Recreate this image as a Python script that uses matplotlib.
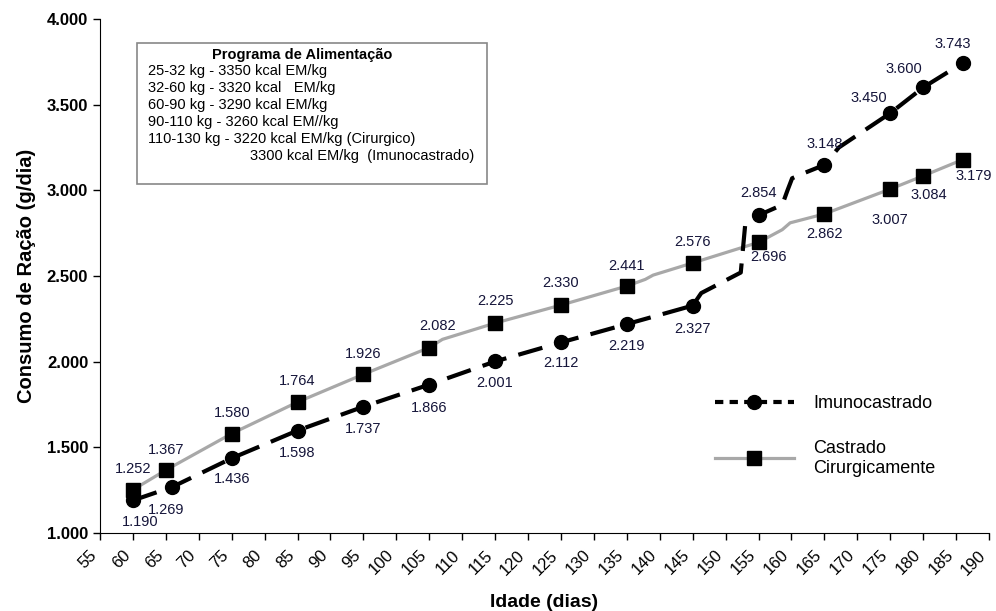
import matplotlib.pyplot as plt
from matplotlib.lines import Line2D

plt.rcParams['font.family'] = ['Liberation Sans', 'DejaVu Sans']

# valores medidos (marcadores)
idade_imuno = [60, 66, 75, 85, 95, 105, 115, 125, 135, 145, 155, 165, 175, 180, 186]
consumo_imuno = [1190, 1269, 1436, 1598, 1737, 1866, 2001, 2112, 2219, 2327, 2854, 3148, 3450, 3600, 3743]

idade_cast = [60, 65, 75, 85, 95, 105, 115, 125, 135, 145, 155, 165, 175, 180, 186]
consumo_cast = [1252, 1367, 1580, 1764, 1926, 2082, 2225, 2330, 2441, 2576, 2696, 2862, 3007, 3084, 3179]

# trajeto das linhas (com as quebras)
linha_imuno_x = [60, 66, 75, 85, 95, 105, 115, 125, 135, 145, 146.3, 152.3, 153.0, 155,
                 158.6, 159.4, 160.1, 161.9, 165, 167.2, 175, 180, 186]
linha_imuno_y = [1190, 1269, 1436, 1598, 1737, 1866, 2001, 2112, 2219, 2327, 2400, 2520, 2810, 2854,
                 2915, 3000, 3070, 3100, 3148, 3250, 3450, 3600, 3743]

linha_cast_x = [60, 65, 75, 85, 95, 105, 107, 115, 125, 135, 137.8, 139, 145, 155,
                158.6, 159.8, 165, 175, 180, 186]
linha_cast_y = [1252, 1367, 1580, 1764, 1926, 2082, 2130, 2225, 2330, 2441, 2480, 2505, 2576, 2696,
                2770, 2810, 2862, 3007, 3084, 3179]

# deslocamento dos rotulos (pixels)
off_imuno = [(7, -22), (-6, -23), (0, -21), (0, -22), (0, -22), (0, -23), (0, -22), (0, -21),
             (0, -22), (0, -23), (0, 22), (0, 21), (-21, 15), (-19, 18), (-10, 19)]
off_cast = [(0, 21), (0, 20), (0, 21), (0, 21), (0, 20), (8, 22), (0, 22), (0, 22),
            (0, 20), (0, 21), (10, -15), (0, -20), (0, -31), (6, -19), (11, -16)]

programa = ["25-32 kg - 3350 kcal EM/kg",
            "32-60 kg - 3320 kcal   EM/kg",
            "60-90 kg - 3290 kcal EM/kg",
            "90-110 kg - 3260 kcal EM//kg",
            "110-130 kg - 3220 kcal EM/kg (Cirurgico)"]
programa_extra = "3300 kcal EM/kg  (Imunocastrado)"


def fmt(v):
    return f"{v / 1000:.3f}"


fig = plt.figure(figsize=(9.96, 6.11), dpi=100)
ax = fig.add_axes([0.1004, 0.1277, 0.8926, 0.8413])

ax.plot(linha_cast_x, linha_cast_y, color='#a8a8a8', lw=2.3, zorder=2)
ax.plot(idade_cast, consumo_cast, ls='none', marker='s', ms=9.5, color='black', zorder=4)

ax.plot(linha_imuno_x, linha_imuno_y, color='black', lw=3, dashes=(6, 3), zorder=3)
ax.plot(idade_imuno, consumo_imuno, ls='none', marker='o', ms=10, color='black', zorder=4)

lab_color = '#15153a'
for x, y, (dx, dy) in zip(idade_imuno, consumo_imuno, off_imuno):
    ax.annotate(fmt(y), (x, y), xytext=(dx, dy), textcoords='offset pixels',
                ha='center', va='center', fontsize=10.5, color=lab_color)
for x, y, (dx, dy) in zip(idade_cast, consumo_cast, off_cast):
    ax.annotate(fmt(y), (x, y), xytext=(dx, dy), textcoords='offset pixels',
                ha='center', va='center', fontsize=10.5, color=lab_color)

ax.set_xlim(55, 190)
ax.set_ylim(1000, 4000)
ax.set_xticks(range(55, 191, 5))
ax.set_xticklabels([str(t) for t in range(55, 191, 5)])
ax.tick_params(axis='x', labelrotation=45, pad=13)
for lbl in ax.get_xticklabels():
    lbl.set_fontsize(12)
    lbl.set_horizontalalignment('right')
    lbl.set_verticalalignment('bottom')
    lbl.set_rotation_mode('anchor')
ax.set_yticks(range(1000, 4001, 500))
ax.set_yticklabels([fmt(t) for t in range(1000, 4001, 500)], fontsize=12, fontweight='bold')
ax.tick_params(direction='out', length=5, width=1)
for s in ['top', 'right']:
    ax.spines[s].set_visible(False)
ax.set_xlabel('Idade (dias)', fontsize=14, fontweight='bold', labelpad=12)
ax.set_ylabel('Consumo de Ração (g/dia)', fontsize=14.5, fontweight='bold', labelpad=8)

# caixa do programa de alimentacao
box = plt.Rectangle((137 / 996, 1 - 184 / 611), 350 / 996, 141 / 611, transform=fig.transFigure,
                    fill=False, edgecolor='#888888', lw=1.2)
fig.patches.append(box)
fig.text(302 / 996, 1 - 55 / 611, 'Programa de Alimentação', ha='center', va='center',
         fontsize=10.5, fontweight='bold')
for i, t in enumerate(programa):
    fig.text(148 / 996, 1 - (71 + 17 * i) / 611, t, ha='left', va='center', fontsize=10.5)
fig.text(250 / 996, 1 - 156 / 611, programa_extra, ha='left', va='center', fontsize=10.5)

handles = [Line2D([], [], color='black', lw=3, dashes=(2, 1.5), marker='o', ms=10),
           Line2D([], [], color='#a8a8a8', lw=2.3, marker='s', ms=9.5,
                  markerfacecolor='black', markeredgecolor='black')]
ax.legend(handles, ['Imunocastrado', 'Castrado\nCirurgicamente'], loc='upper left',
          bbox_to_anchor=(0.673, 0.30), frameon=False, fontsize=13, handlelength=4.4,
          labelspacing=1.55, handletextpad=1.05)

fig.savefig('out.png', dpi=100)
